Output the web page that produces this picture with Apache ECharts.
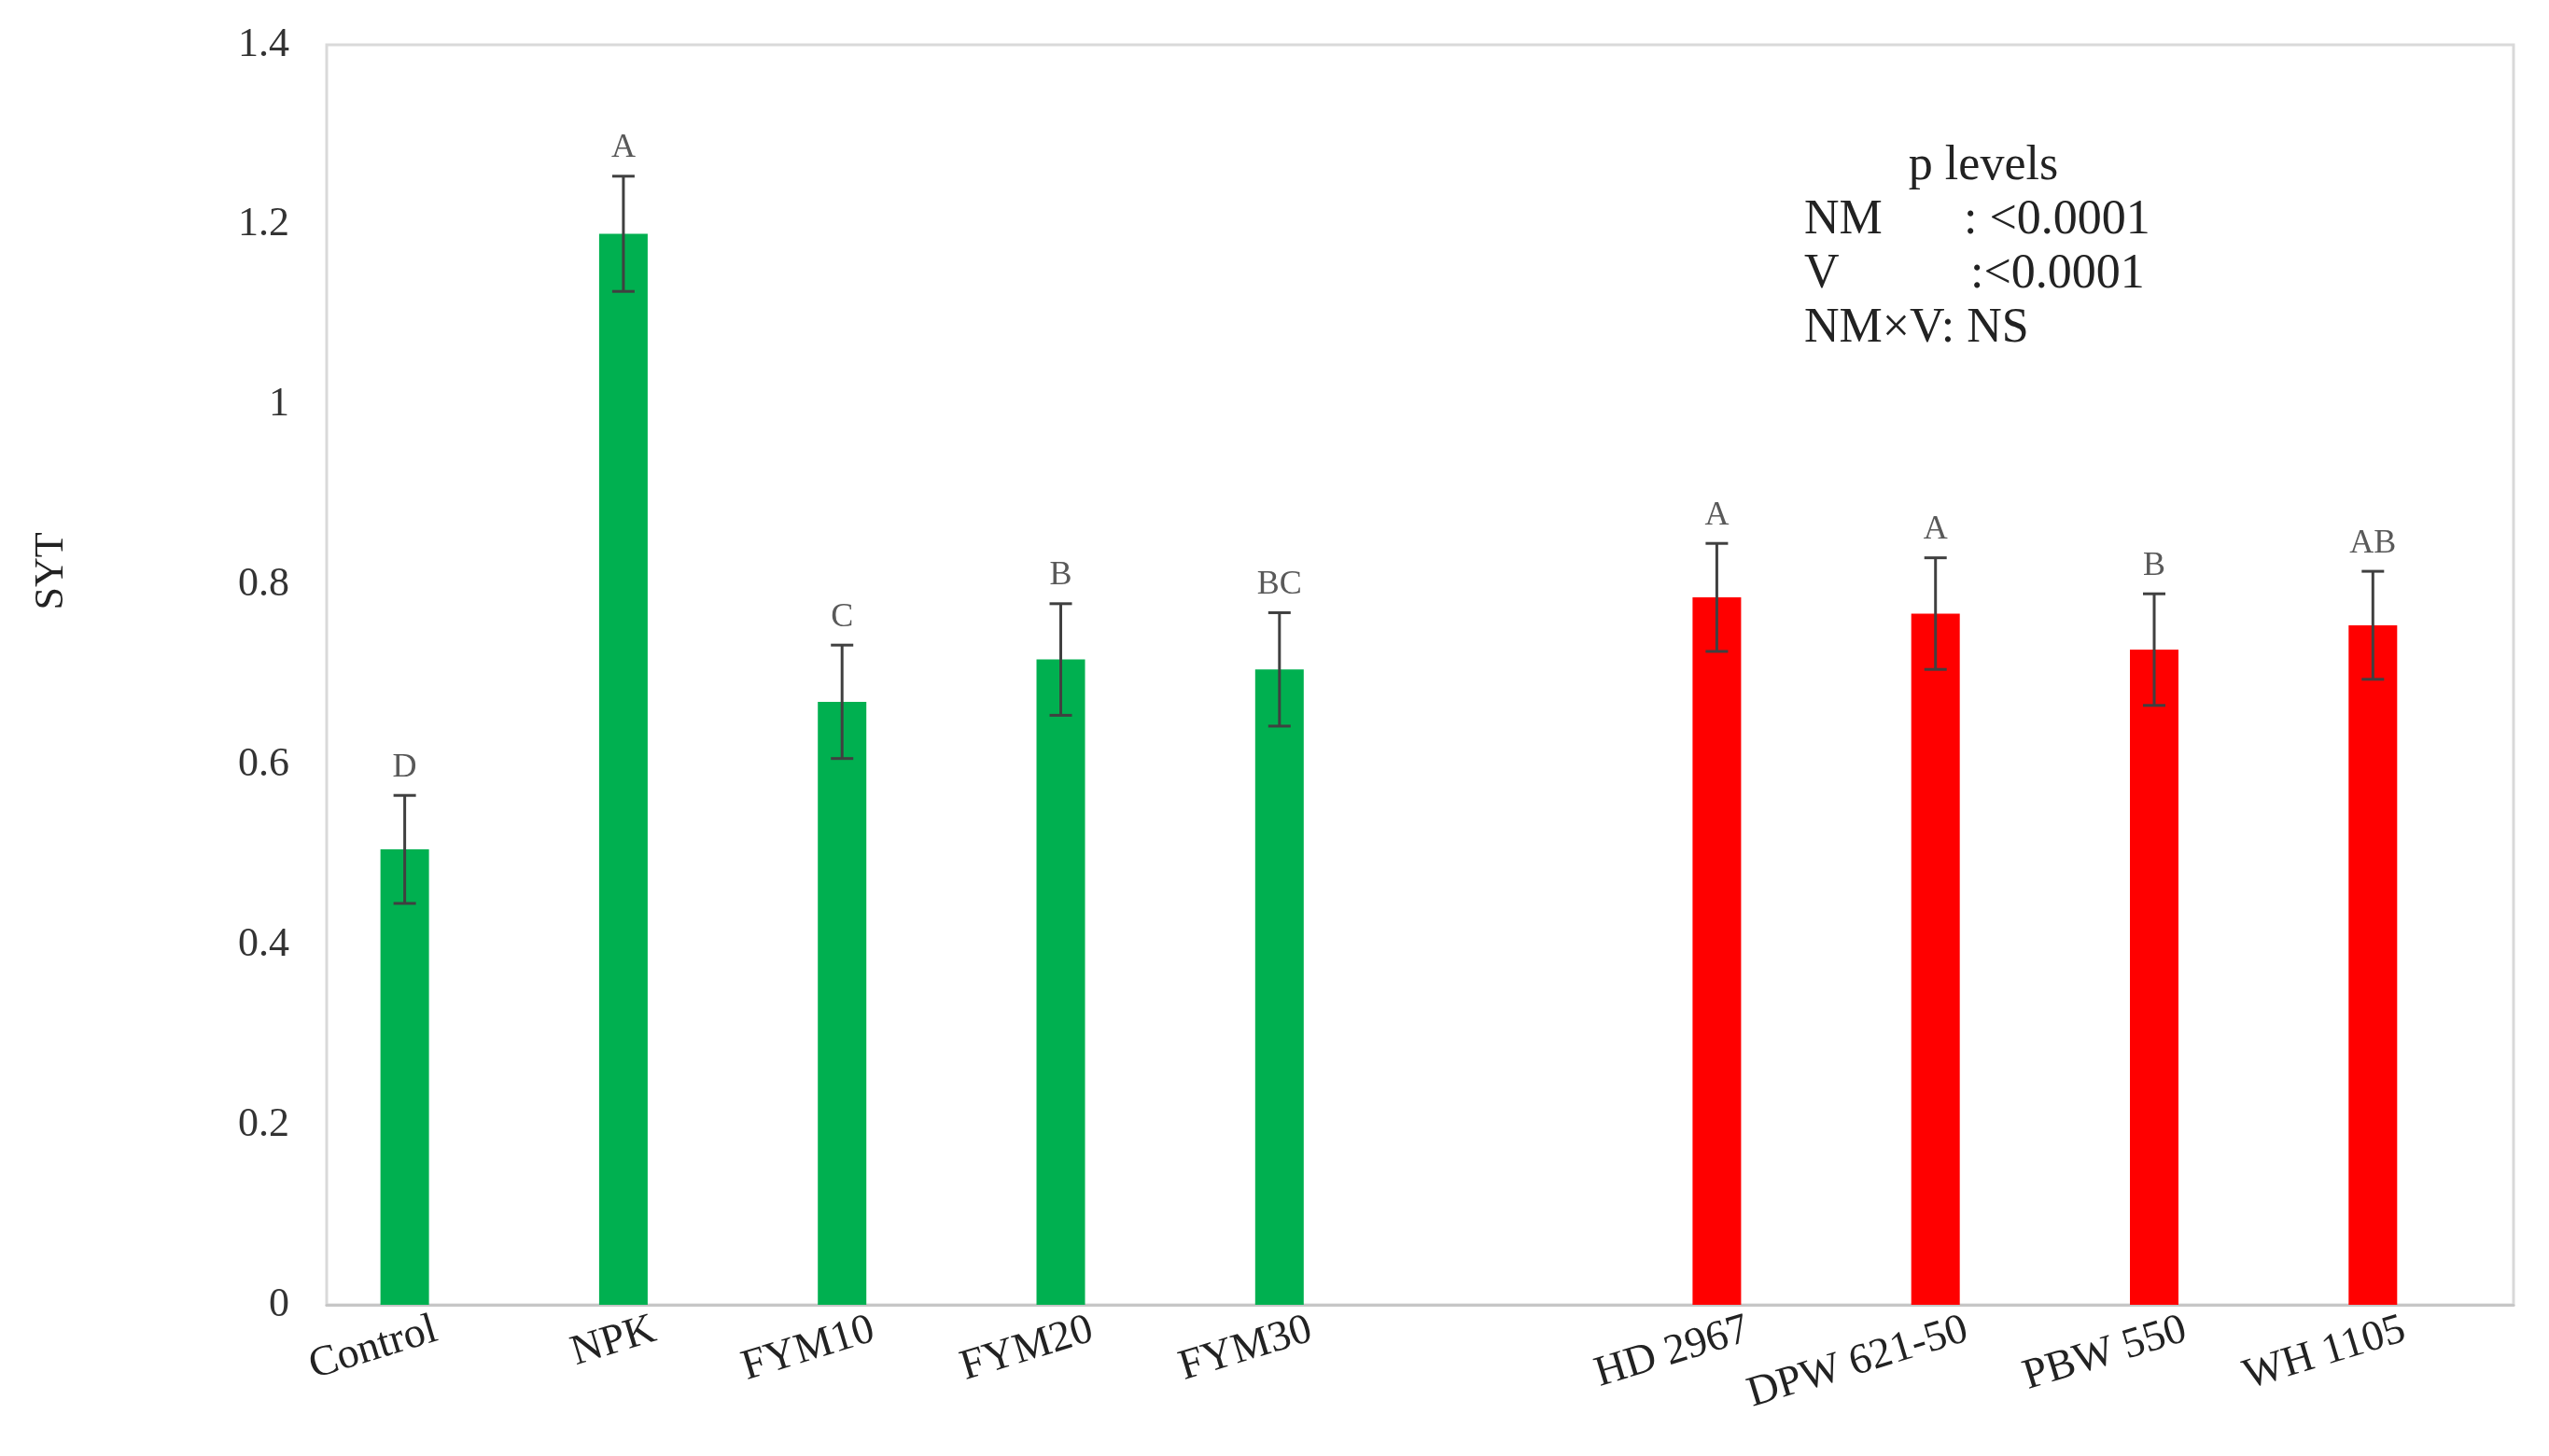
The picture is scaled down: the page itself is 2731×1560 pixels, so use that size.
<!DOCTYPE html>
<html>
<head>
<meta charset="utf-8">
<script src="https://cdn.jsdelivr.net/npm/echarts@6/dist/echarts.min.js"></script>
<style>
html,body{margin:0;padding:0;background:#ffffff;}
#chart{width:2731px;height:1560px;}
</style>
</head>
<body>
<div id="chart"></div>
<script>
// ---- data ----
const categories = ['Control', 'NPK', 'FYM10', 'FYM20', 'FYM30', '', 'HD 2967', 'DPW 621-50', 'PBW 550', 'WH 1105'];
const groups     = ['NM', 'NM', 'NM', 'NM', 'NM', null, 'V', 'V', 'V', 'V'];
const sytValues  = [0.506, 1.190, 0.670, 0.717, 0.706, null, 0.786, 0.768, 0.728, 0.755];
const sytErrors  = [0.060, 0.064, 0.063, 0.062, 0.063, null, 0.060, 0.062, 0.062, 0.060];
const letters    = ['D', 'A', 'C', 'B', 'BC', '', 'A', 'A', 'B', 'AB'];
const yTicks     = { min: 0, max: 1.4, interval: 0.2 };
const yAxisTitle = 'SYT';
const pLevelsTitle = 'p levels';
const pLevelRows = [
  ['NM', ': <0.0001'],
  ['V', ':<0.0001'],
  ['NM\u00d7V: NS', '']
];

// ---- style ----
const groupColors = { NM: '#00B050', V: '#FF0000' };
const FONT = "'Liberation Serif', 'Times New Roman', serif";
const BAR_W = 52;
const BAR_GAP = 0.29;
const BAR_SHIFT = -(BAR_W + BAR_W * BAR_GAP) / 2;

const barData = sytValues.map((v, i) => v == null ? null : ({
  value: v,
  itemStyle: { color: groupColors[groups[i]] }
}));

const errData = [];
sytValues.forEach((v, i) => {
  if (v != null) errData.push([i, v, sytErrors[i]]);
});

const chart = echarts.init(document.getElementById('chart'), null, { renderer: 'canvas' });

const graphics = [
  {
    type: 'text', x: 55, y: 612, rotation: Math.PI / 2,
    style: { text: yAxisTitle, x: 0, y: 0, align: 'center', verticalAlign: 'middle',
             fontSize: 44, fontFamily: FONT, fill: '#222' }
  },
  {
    type: 'text', x: 2125, y: 178,
    style: { text: pLevelsTitle, align: 'center', verticalAlign: 'middle',
             fontSize: 52, fontFamily: FONT, fill: '#222' }
  }
];
const rowY = [236, 294, 352];
const valueX = [2104, 2111, 2111];
pLevelRows.forEach((r, k) => {
  graphics.push({
    type: 'text', x: 1933, y: rowY[k],
    style: { text: r[0], align: 'left', verticalAlign: 'middle', fontSize: 52, fontFamily: FONT, fill: '#222' }
  });
  if (r[1]) {
    graphics.push({
      type: 'text', x: valueX[k], y: rowY[k],
      style: { text: r[1], align: 'left', verticalAlign: 'middle', fontSize: 52, fontFamily: FONT, fill: '#222' }
    });
  }
});

chart.setOption({
  animation: false,
  backgroundColor: '#ffffff',
  grid: {
    show: true, left: 350, right: 38, top: 48, bottom: 162,
    borderColor: '#d9d9d9', borderWidth: 3, backgroundColor: 'transparent'
  },
  xAxis: {
    type: 'category',
    data: categories,
    axisTick: { show: false },
    axisLine: { show: true, lineStyle: { color: '#c6c6c6', width: 3 } },
    axisLabel: {
      interval: 0, rotate: 17, margin: 26,
      fontSize: 46, fontFamily: FONT, color: '#222'
    },
    splitLine: { show: false }
  },
  yAxis: {
    type: 'value',
    min: yTicks.min, max: yTicks.max, interval: yTicks.interval,
    axisLine: { show: false },
    axisTick: { show: false },
    splitLine: { show: false },
    axisLabel: { fontSize: 44, fontFamily: FONT, color: '#333', margin: 40 }
  },
  series: [
    {
      type: 'bar',
      name: 'SYT',
      data: barData,
      barWidth: BAR_W,
      barGap: (BAR_GAP * 100) + '%',
      z: 2
    },
    {
      type: 'bar',
      name: 'spacer',
      data: categories.map(() => null),
      barWidth: BAR_W,
      silent: true
    },
    {
      type: 'custom',
      name: 'error',
      data: errData,
      encode: { x: 0, y: 1 },
      z: 5,
      renderItem: function (params, api) {
        const i = api.value(0), v = api.value(1), e = api.value(2);
        const top = api.coord([i, v + e]);
        const bot = api.coord([i, v - e]);
        const x = top[0] + BAR_SHIFT;
        const ls = { stroke: '#404040', lineWidth: 3 };
        return {
          type: 'group',
          children: [
            { type: 'line', shape: { x1: x, y1: top[1], x2: x, y2: bot[1] }, style: ls },
            { type: 'line', shape: { x1: x - 12, y1: top[1], x2: x + 12, y2: top[1] }, style: ls },
            { type: 'line', shape: { x1: x - 12, y1: bot[1], x2: x + 12, y2: bot[1] }, style: ls },
            { type: 'text', style: { text: letters[i], x: x, y: top[1] - 30, align: 'center', verticalAlign: 'middle',
                fontSize: 36, fontFamily: FONT, fill: '#595959' } }
          ]
        };
      }
    }
  ],
  graphic: graphics
});
</script>
</body>
</html>
